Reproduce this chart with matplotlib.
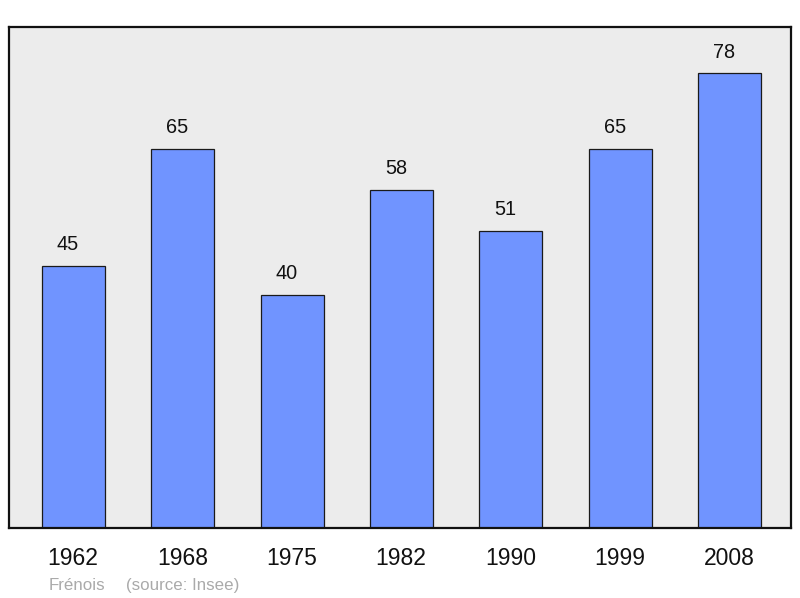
import matplotlib
matplotlib.use("Agg")
import matplotlib.pyplot as plt

years = ["1962", "1968", "1975", "1982", "1990", "1999", "2008"]
population = [45, 65, 40, 58, 51, 65, 78]
commune = "Frénois"
source = "(source: Insee)"

plt.rcParams['font.family'] = ['Liberation Sans', 'DejaVu Sans']

W, H = 800, 598
fig = plt.figure(figsize=(W / 100, H / 100), dpi=100)
ax = fig.add_axes([9 / W, (H - 528) / H, 782 / W, 501 / H])
ax.set_facecolor('#ececec')

x = list(range(len(years)))
ax.bar(x, population, width=0.576, color='#7094ff', edgecolor='#1a1a1a', linewidth=0.9, zorder=2)
ax.set_xlim(-0.59, 6.563)
ax.set_ylim(0, 85.9)
ax.set_xticks([])
ax.set_yticks([])
for s in ax.spines.values():
    s.set_linewidth(1.6)
    s.set_color('#111111')

for i, v in zip(x, population):
    ax.annotate(str(v), xy=(i, v), xytext=(-5.5 * 0.72, 15.5 * 0.72), textcoords='offset points',
                ha='center', va='baseline', fontsize=14.3, color='#111111')
    ax.annotate(years[i], xy=(i, 0), xycoords=('data', 'axes fraction'),
                xytext=(-0.5 * 0.72, -37 * 0.72), textcoords='offset points',
                ha='center', va='baseline', fontsize=16.5, color='#111111', annotation_clip=False)

fig.text(49 / W, (H - 590) / H, commune, ha='left', va='baseline', fontsize=12.2, color='#aaaaaa')
fig.text(126 / W, (H - 590) / H, source, ha='left', va='baseline', fontsize=12.2, color='#aaaaaa')

fig.savefig('out.png', dpi=100)
